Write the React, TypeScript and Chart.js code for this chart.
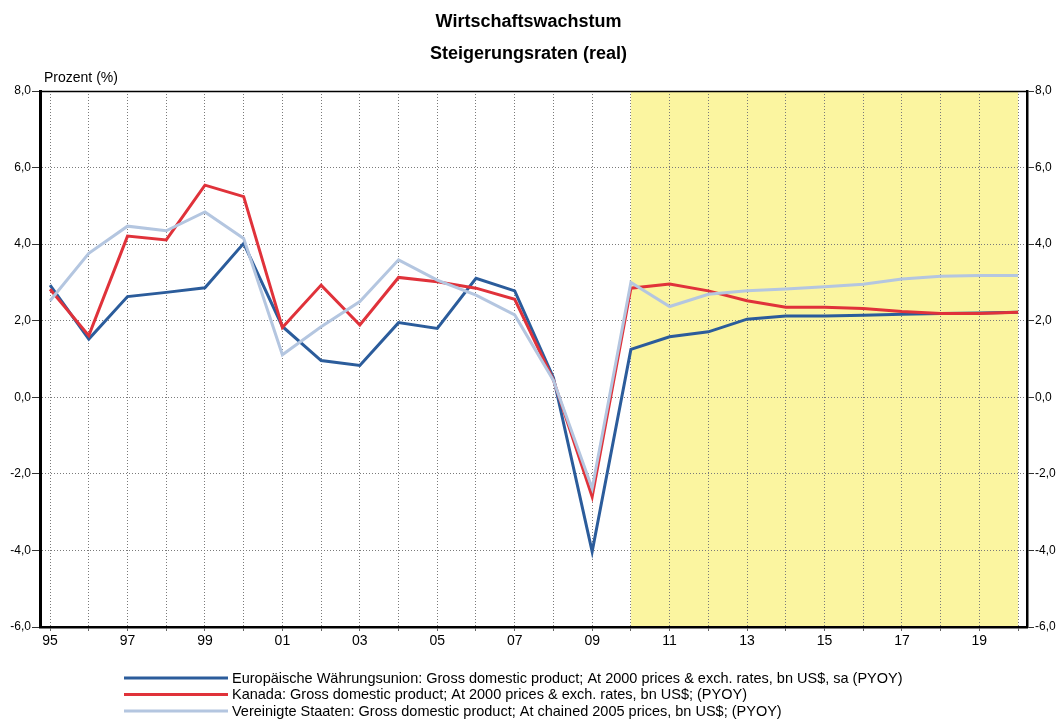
import React, { useEffect, useRef } from "react";
import { Chart, registerables } from "chart.js";

Chart.register(...registerables);

const years: number[] = [
  1995, 1996, 1997, 1998, 1999, 2000, 2001, 2002, 2003, 2004, 2005, 2006, 2007,
  2008, 2009, 2010, 2011, 2012, 2013, 2014, 2015, 2016, 2017, 2018, 2019, 2020,
];

const ewu: number[] = [
  2.93, 1.52, 2.63, 2.74, 2.86, 4.02, 1.85, 0.96, 0.83, 1.95, 1.8, 3.11, 2.78,
  0.51, -4.03, 1.25, 1.58, 1.71, 2.04, 2.12, 2.12, 2.14, 2.17, 2.19, 2.2, 2.22,
];

const kanada: number[] = [
  2.82, 1.61, 4.21, 4.11, 5.54, 5.24, 1.82, 2.93, 1.89, 3.13, 3.02, 2.85, 2.56,
  0.45, -2.6, 2.85, 2.96, 2.78, 2.52, 2.35, 2.35, 2.32, 2.24, 2.19, 2.19, 2.22,
];

const usa: number[] = [
  2.52, 3.76, 4.47, 4.35, 4.84, 4.15, 1.11, 1.84, 2.5, 3.59, 3.06, 2.67, 2.15,
  0.44, -2.38, 3.0, 2.37, 2.69, 2.78, 2.83, 2.89, 2.95, 3.09, 3.16, 3.18, 3.18,
];

const seriesLabels: string[] = [
  "Europäische Währungsunion: Gross domestic product; At 2000 prices & exch. rates, bn US$, sa (PYOY)",
  "Kanada: Gross domestic product; At 2000 prices & exch. rates, bn US$; (PYOY)",
  "Vereinigte Staaten: Gross domestic product; At chained 2005 prices, bn US$; (PYOY)",
];

const titleLines: string[] = ["Wirtschaftswachstum", "Steigerungsraten (real)"];
const yAxisTitle = "Prozent (%)";
const forecastStart = 2010;
const forecastEnd = 2020;

const FONT = '"Liberation Sans", Arial, sans-serif';

const fmtY = (v: number) => v.toFixed(1).replace(".", ",");
const fmtX = (v: number) =>
  (v - 1995) % 2 === 0 ? String(v % 100).padStart(2, "0") : "";

export default function App() {
  const ref = useRef<HTMLCanvasElement | null>(null);

  useEffect(() => {
    if (!ref.current) return;

    const bandPlugin = {
      id: "band",
      beforeDraw(chart: any) {
        const { ctx, chartArea, scales } = chart;
        const x1 = scales.x.getPixelForValue(forecastStart);
        const x2 = scales.x.getPixelForValue(forecastEnd);
        ctx.save();
        ctx.fillStyle = "#fbf5a0";
        ctx.fillRect(x1, chartArea.top, x2 - x1, chartArea.bottom - chartArea.top);
        ctx.restore();
      },
      afterDraw(chart: any) {
        const { ctx, chartArea } = chart;
        ctx.save();
        // top frame line
        ctx.strokeStyle = "#000";
        ctx.lineWidth = 1.5;
        ctx.beginPath();
        ctx.moveTo(chartArea.left, chartArea.top + 0.5);
        ctx.lineTo(chartArea.right, chartArea.top + 0.5);
        ctx.stroke();
        // y axis caption
        ctx.fillStyle = "#000";
        ctx.font = `14px ${FONT}`;
        ctx.textBaseline = "middle";
        ctx.textAlign = "left";
        ctx.fillText(yAxisTitle, 44, 78);
        // legend
        ctx.font = `14.5px ${FONT}`;
        chart.data.datasets.forEach((ds: any, i: number) => {
          const y = 678 + 16.5 * i;
          ctx.strokeStyle = ds.borderColor;
          ctx.lineWidth = 3;
          ctx.beginPath();
          ctx.moveTo(124, y);
          ctx.lineTo(228, y);
          ctx.stroke();
          ctx.fillStyle = "#000";
          ctx.fillText(ds.label, 232, y + 0.5);
        });
        ctx.restore();
      },
    };

    const mk = (vals: number[]) => years.map((yr, i) => ({ x: yr, y: vals[i] }));

    const chart = new Chart(ref.current, {
      type: "line",
      data: {
        datasets: [
          {
            label: seriesLabels[0],
            data: mk(ewu),
            borderColor: "#2b5c9b",
            backgroundColor: "#2b5c9b",
            borderWidth: 3,
            pointRadius: 0,
            tension: 0,
            order: 2,
          },
          {
            label: seriesLabels[1],
            data: mk(kanada),
            borderColor: "#e0323a",
            backgroundColor: "#e0323a",
            borderWidth: 3,
            pointRadius: 0,
            tension: 0,
            order: 1,
          },
          {
            label: seriesLabels[2],
            data: mk(usa),
            borderColor: "#b4c6e0",
            backgroundColor: "#b4c6e0",
            borderWidth: 3,
            pointRadius: 0,
            tension: 0,
            order: 0,
          },
        ],
      },
      options: {
        animation: false,
        responsive: false,
        maintainAspectRatio: false,
        layout: { padding: 0 },
        plugins: {
          legend: { display: false },
          tooltip: { enabled: false },
          title: {
            display: true,
            text: titleLines,
            color: "#000",
            font: { family: FONT, size: 18, weight: "bold", lineHeight: 32 / 18 },
            padding: { top: 6, bottom: 21 },
          },
        },
        scales: {
          x: {
            type: "linear",
            min: 1994.74,
            max: 2020.23,
            afterBuildTicks: (scale: any) => {
              scale.ticks = years.map((v) => ({ value: v }));
            },
            afterFit: (scale: any) => {
              scale.height = 92;
            },
            ticks: {
              autoSkip: false,
              maxRotation: 0,
              padding: 2,
              color: "#000",
              font: { family: FONT, size: 14 },
              callback: (v: any) => fmtX(Number(v)),
            },
            grid: {
              color: "#7a7a7a",
              lineWidth: 1,
              tickLength: 4,
              tickColor: "#666",
              tickBorderDash: [],
            },
            border: { display: true, color: "#000", width: 2.5, dash: [1, 2] },
          },
          y: {
            position: "left",
            min: -6,
            max: 8,
            afterFit: (scale: any) => {
              scale.width = 40;
            },
            ticks: {
              stepSize: 2,
              padding: 1,
              color: "#000",
              font: { family: FONT, size: 12 },
              callback: (v: any) => fmtY(Number(v)),
            },
            grid: {
              color: "#7a7a7a",
              lineWidth: 1,
              tickLength: 8,
              tickColor: "#333",
              tickBorderDash: [],
            },
            border: { display: true, color: "#000", width: 3, dash: [1, 2] },
          },
          y2: {
            position: "right",
            min: -6,
            max: 8,
            afterFit: (scale: any) => {
              scale.width = 30;
            },
            ticks: {
              stepSize: 2,
              padding: 1,
              color: "#000",
              font: { family: FONT, size: 12 },
              callback: (v: any) => fmtY(Number(v)),
            },
            grid: {
              drawOnChartArea: false,
              tickLength: 7,
              tickColor: "#333",
              tickBorderDash: [],
            },
            border: { display: true, color: "#000", width: 2.5 },
          },
        },
      },
      plugins: [bandPlugin],
    });

    return () => chart.destroy();
  }, []);

  return (
    <div style={{ position: "absolute", left: 0, top: 0, width: 1057, height: 719, background: "#fff" }}>
      <canvas ref={ref} width={1057} height={719} style={{ display: "block", width: 1057, height: 719 }} />
    </div>
  );
}
